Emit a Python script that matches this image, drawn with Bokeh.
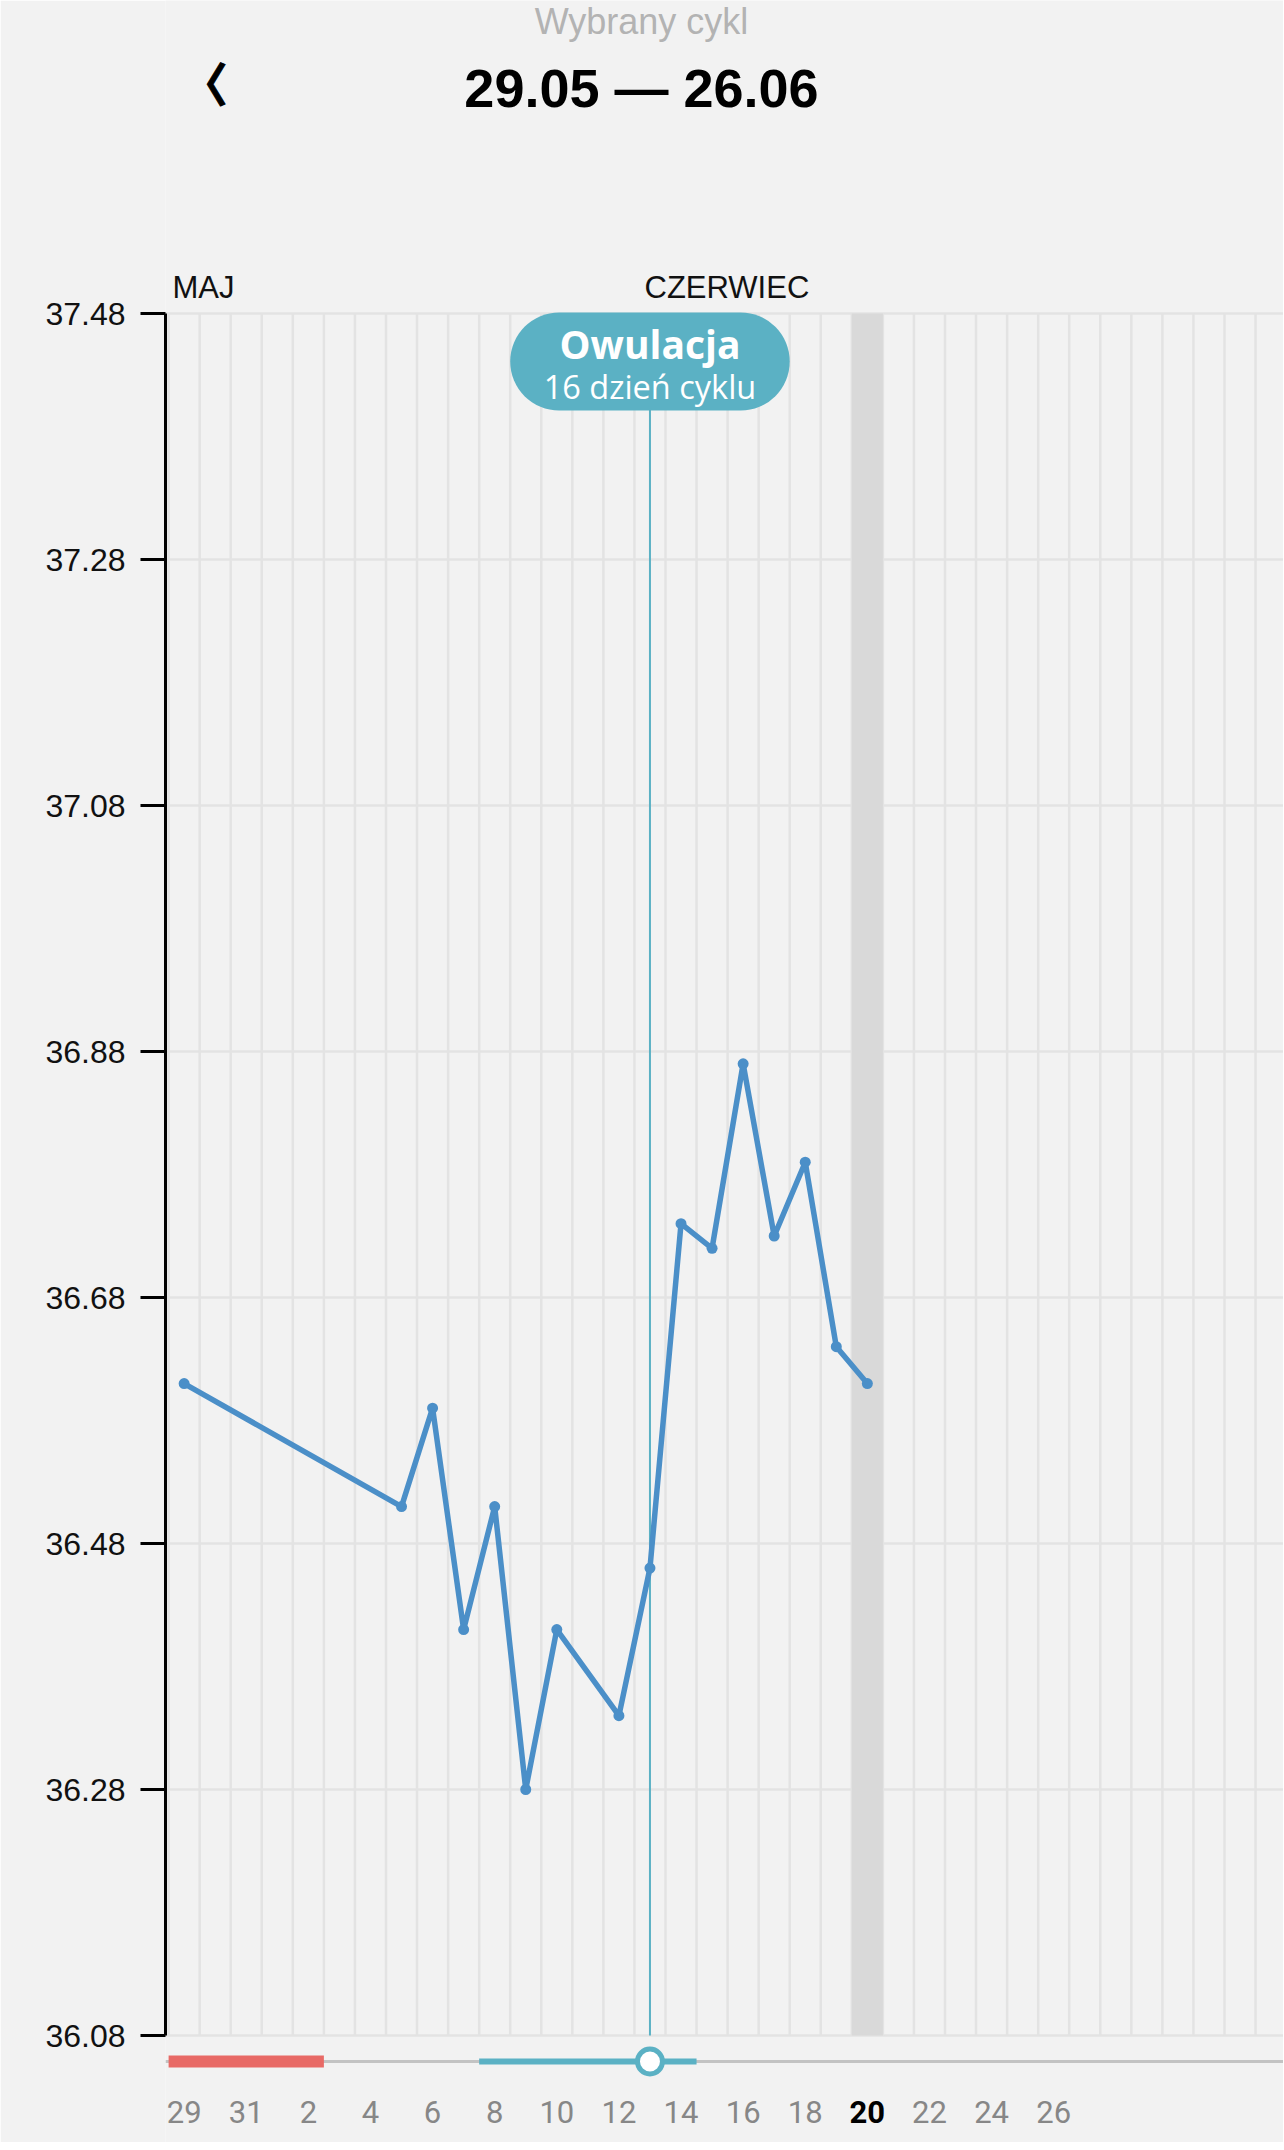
from bokeh.plotting import figure
from bokeh.models import FixedTicker, Label, Range1d, PrintfTickFormatter
from bokeh.embed import file_html
from bokeh.resources import INLINE
from bokeh.core.properties import value

# ---------------- data ----------------
# day index 0 = 29 May
temp_days = [0, 7, 8, 9, 10, 11, 12, 14, 15, 16, 17, 18, 19, 20, 21, 22]
temps = [36.61, 36.51, 36.59, 36.41, 36.51, 36.28, 36.41, 36.34, 36.46,
         36.74, 36.72, 36.87, 36.73, 36.79, 36.64, 36.61]
tick_days = [0, 2, 4, 6, 8, 10, 12, 14, 16, 18, 20, 22, 24, 26, 28]
tick_labels = ["29", "31", "2", "4", "6", "8", "10", "12", "14", "16", "18",
               "20", "22", "24", "26"]
y_ticks = [36.08, 36.28, 36.48, 36.68, 36.88, 37.08, 37.28, 37.48]
month_labels = ["MAJ", "CZERWIEC"]
n_days = 36
today_day = 22
ovulation_day = 15
ovulation_cycle_day = 16
period_days = [0, 1, 2, 3, 4]
fertile_days = [10, 11, 12, 13, 14, 15, 16]
header_top = "Wybrany cykl"
header_range = "29.05 \u2014 26.06"

# ---------------- style ----------------
BG = "#f2f2f2"
LINE = "#4b8fc8"
TEAL = "#5bb1c4"
RED = "#e86a66"
GRID = "#e3e3e3"

W, H = 1283, 2142
BORDER_LEFT = 165
TOP_PX = 313                          # pixels from figure top to Y_TOP
Y_TOP, Y_MIN = y_ticks[-1], y_ticks[0]
AXIS_PX = 1722.0                      # pixels between Y_MIN and Y_TOP
DEG_PER_PX = (Y_TOP - Y_MIN) / AXIS_PX
y_end = Y_TOP + TOP_PX * DEG_PER_PX
y_start = y_end - H * DEG_PER_PX
x_start, x_end = -0.6, n_days - 0.6

def below(px):
    return Y_MIN - px * DEG_PER_PX

p = figure(width=W, height=H, x_range=Range1d(x_start, x_end),
           y_range=Range1d(y_start, y_end), output_backend="svg",
           toolbar_location=None, x_axis_location=None,
           min_border_left=BORDER_LEFT, min_border_right=0,
           min_border_top=0, min_border_bottom=0,
           background_fill_color=BG, border_fill_color=BG,
           outline_line_color=None)

p.xgrid.visible = False
p.ygrid.grid_line_color = GRID
p.ygrid.grid_line_width = 2.5

ax = p.yaxis[0]
ax.ticker = FixedTicker(ticks=y_ticks)
ax.bounds = (Y_MIN, Y_TOP)
ax.formatter = PrintfTickFormatter(format="%.2f")
ax.axis_line_width = 3
ax.axis_line_color = "black"
ax.major_tick_line_width = 3
ax.major_tick_line_color = "black"
ax.major_tick_out = 25
ax.major_tick_in = 0
ax.minor_tick_line_color = None
ax.major_label_text_font = "Liberation Sans"
ax.major_label_text_font_size = "32px"
ax.major_label_text_color = "#111111"
ax.major_label_standoff = 15

# vertical day grid
bounds_x = [d - 0.5 for d in range(n_days + 1)]
p.segment(x0=bounds_x, x1=bounds_x, y0=[Y_MIN] * len(bounds_x),
          y1=[Y_TOP] * len(bounds_x), line_color=GRID, line_width=2.5)

# today band
p.quad(left=[today_day - 0.5], right=[today_day + 0.5], top=[Y_TOP],
       bottom=[Y_MIN], fill_color="#d9d9d9", line_color=None)

# ovulation line
p.segment(x0=[ovulation_day], x1=[ovulation_day], y0=[Y_MIN], y1=[Y_TOP],
          line_color=TEAL, line_width=2)

# temperature line
p.line(temp_days, temps, line_color=LINE, line_width=5.5, line_join="round")
p.scatter(temp_days, temps, size=11, fill_color=LINE, line_color=None)

# ovulation bubble
p.quad(left=[ovulation_day - 4.5], right=[ovulation_day + 4.5],
       top=[Y_TOP + 1 * DEG_PER_PX], bottom=[Y_TOP - 97 * DEG_PER_PX],
       fill_color=TEAL, line_color=None, border_radius=49)
p.add_layout(Label(x=ovulation_day, y=Y_TOP, y_offset=-30, text="Owulacja",
                   text_align="center", text_baseline="alphabetic",
                   text_font="Open Sans", text_font_style="bold",
                   text_font_size="39px", text_color="white"))
p.add_layout(Label(x=ovulation_day, y=Y_TOP, y_offset=-73,
                   text=f"{ovulation_cycle_day} dzień cyklu",
                   text_align="center", text_baseline="alphabetic",
                   text_font="Open Sans", text_font_size="32.5px",
                   text_color="white"))

# cycle bar below the chart
yb = below(26)
p.segment(x0=[x_start], x1=[x_end], y0=[yb], y1=[yb], line_color="#c3c3c3",
          line_width=3)
p.segment(x0=[period_days[0] - 0.5], x1=[period_days[-1] + 0.5], y0=[yb],
          y1=[yb], line_color=RED, line_width=12, line_cap="butt")
p.segment(x0=[fertile_days[0] - 0.5], x1=[fertile_days[-1] + 0.5], y0=[yb],
          y1=[yb], line_color=TEAL, line_width=6, line_cap="butt")
p.scatter([ovulation_day], [yb], size=25, fill_color="white",
          line_color=TEAL, line_width=5)

# day labels
yl = below(76)
reg = [i for i, d in enumerate(tick_days) if d != today_day]
bold = [i for i, d in enumerate(tick_days) if d == today_day]
p.text(x=[tick_days[i] for i in reg], y=[yl] * len(reg),
       text=[tick_labels[i] for i in reg], text_align="center",
       text_baseline="alphabetic", text_font=value("Roboto"),
       text_font_size="31px", text_color="#878787")
p.text(x=[tick_days[i] for i in bold], y=[yl] * len(bold),
       text=[tick_labels[i] for i in bold], text_align="center",
       text_baseline="alphabetic", text_font=value("Roboto"),
       text_font_style="bold", text_font_size="31px", text_color="black")

# month labels
for txt, xo in zip(month_labels, [7, 479]):
    p.add_layout(Label(x=x_start, y=Y_TOP, x_offset=xo, y_offset=26, text=txt,
                       text_align="left", text_baseline="alphabetic",
                       text_font="Liberation Sans", text_font_size="31px",
                       text_color="#111111"))

# header
p.add_layout(Label(x=x_start, y=Y_TOP, x_offset=642 - 166, y_offset=292,
                   text=header_top, text_align="center",
                   text_baseline="alphabetic", text_font="Liberation Sans",
                   text_font_size="36px", text_color="#b3b3b3"))
p.add_layout(Label(x=x_start, y=Y_TOP, x_offset=642 - 166, y_offset=226,
                   text=header_range, text_align="center",
                   text_baseline="alphabetic", text_font="Liberation Sans",
                   text_font_style="bold", text_font_size="54px",
                   text_color="black"))
p.add_layout(Label(x=x_start, y=Y_TOP, x_offset=205 - 166, y_offset=233,
                   text="\u3008", text_align="center", text_baseline="middle",
                   text_font="Noto Sans CJK SC", text_font_style="bold",
                   text_font_size="46px", text_color="black",
                   text_outline_color="black"))

open("out.html", "w").write(file_html(p, INLINE))
